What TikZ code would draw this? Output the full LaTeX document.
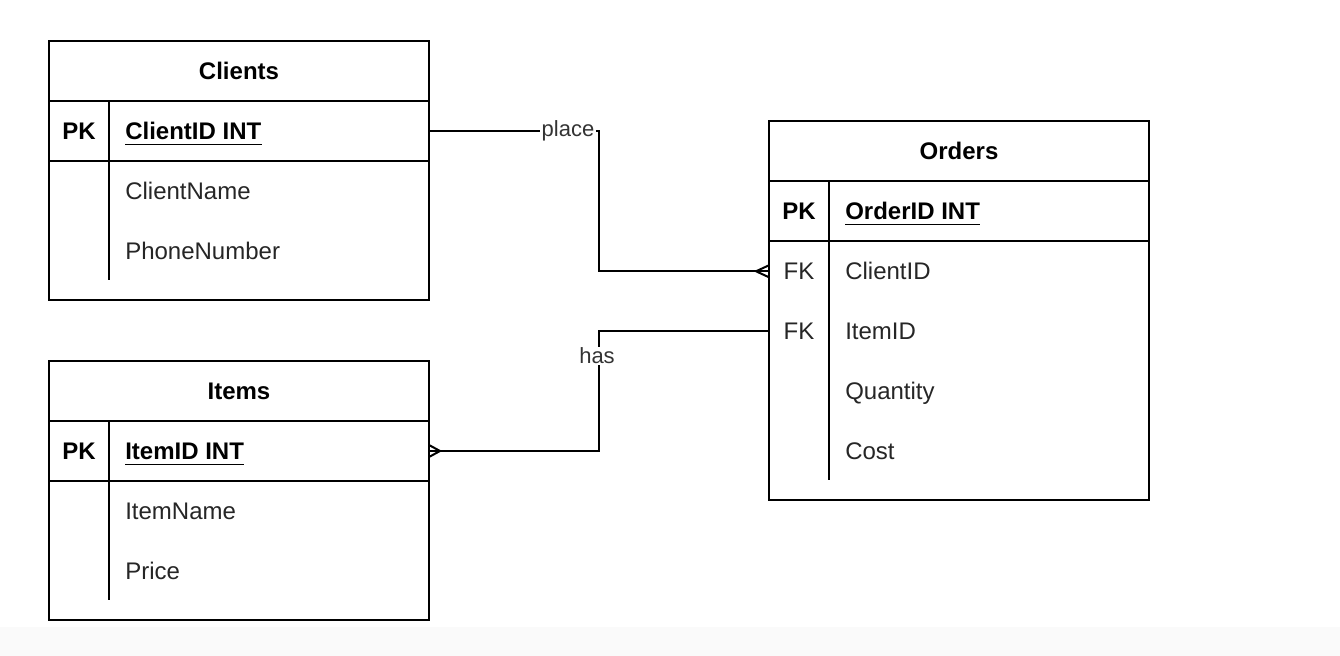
\documentclass[tikz,border=0pt]{standalone}
\usepackage{fontspec}
\setmainfont{Liberation Sans}
\usetikzlibrary{positioning}
\tikzset{
  tabhead/.style={draw,line width=1.5pt,outer sep=0pt,minimum width=285pt,minimum height=45pt,font=\fontsize{18}{20}\selectfont\bfseries},
  tabrow/.style={draw,line width=1.5pt,outer sep=0pt,minimum width=285pt,minimum height=45pt},
  attr/.style={anchor=base west,yshift=-6.4pt,inner sep=0pt,font=\fontsize{18}{20}\selectfont,text=black!85},
  pkey/.style={attr,font=\fontsize{18}{20}\selectfont\bfseries,text=black},
  keytag/.style={anchor=base,yshift=-6.4pt,inner sep=0pt,font=\fontsize{18}{20}\selectfont,text=black!85},
  pktag/.style={keytag,font=\fontsize{18}{20}\selectfont\bfseries,text=black},
  rel/.style={line width=1.5pt},
  lbl/.style={fill=white,inner sep=1pt,font=\fontsize{16.5}{18}\selectfont,text=black!80}
}
\begin{document}
\begin{tikzpicture}[x=0.75pt,y=-0.75pt]
\fill[white] (0,0) rectangle (1340,656);
\fill[black!2] (0,627) rectangle (1340,656);
\useasboundingbox (0,0) rectangle (1340,656);
% Clients
\node[tabhead] (ct) at (239,71) {Clients};
\node[tabrow,below=0pt of ct] (cpk) {};
\node[tabrow,below=0pt of cpk,minimum height=104.25pt] (cb) {};
\draw[rel] (109,101) -- (109,280);
\node[pktag] (cpkt) at (79,131) {PK};
\node[pkey] (cid) at (125,131) {ClientID INT};
\draw[line width=1.2pt] ([yshift=-3.4pt]cid.south west) -- ([yshift=-3.4pt]cid.south east);
\node[attr] (cname) at (125,191) {ClientName};
\node[attr] (cphone) at (125,251) {PhoneNumber};
% Items
\node[tabhead] (it) at (239,391) {Items};
\node[tabrow,below=0pt of it] (ipk) {};
\node[tabrow,below=0pt of ipk,minimum height=104.25pt] (ib) {};
\draw[rel] (109,421) -- (109,600);
\node[pktag] (ipkt) at (79,451) {PK};
\node[pkey] (iid) at (125,451) {ItemID INT};
\draw[line width=1.2pt] ([yshift=-3.4pt]iid.south west) -- ([yshift=-3.4pt]iid.south east);
\node[attr] (iname) at (125,511) {ItemName};
\node[attr] (iprice) at (125,571) {Price};
% Orders
\node[tabhead] (ot) at (959,151) {Orders};
\node[tabrow,below=0pt of ot] (opk) {};
\node[tabrow,below=0pt of opk,minimum height=194.25pt] (ob) {};
\draw[rel] (829,181) -- (829,480);
\node[pktag] (opkt) at (799,211) {PK};
\node[pkey] (oid) at (845,211) {OrderID INT};
\draw[line width=1.2pt] ([yshift=-3.4pt]oid.south west) -- ([yshift=-3.4pt]oid.south east);
\node[keytag] (ofk1) at (799,271) {FK};
\node[attr] (oclient) at (845,271) {ClientID};
\node[keytag] (ofk2) at (799,331) {FK};
\node[attr] (oitem) at (845,331) {ItemID};
\node[attr] (oqty) at (845,391) {Quantity};
\node[attr] (ocost) at (845,451) {Cost};
% relations
\draw[rel] (cpk.east) -- ++(170,0) |- (ob.west |- ofk1);
\draw[rel] (ob.west |- ofk1) ++(-13,0) -- ++(13,-6) ++(-13,6) -- ++(13,6);
\node[lbl] (place) at (568,131) {place};
\draw[rel] (ob.west |- ofk2) -- ++(-170,0) |- (ipk.east);
\draw[rel] (ipk.east) ++(11,0) -- ++(-11,-6) ++(11,6) -- ++(-11,6);
\node[lbl] (has) at (597,356) {has};
\end{tikzpicture}
\end{document}
